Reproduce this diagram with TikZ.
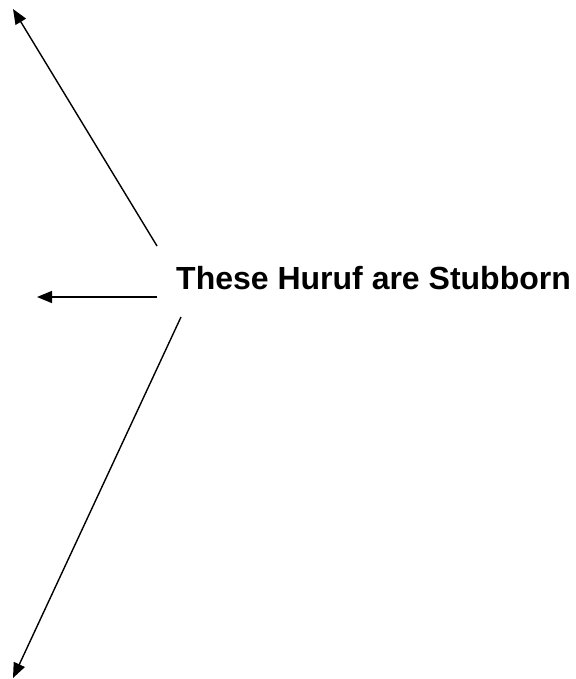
\documentclass[tikz,border=0pt]{standalone}
\usepackage{fontspec}
\setmainfont{Liberation Sans}
\usetikzlibrary{arrows.meta,positioning}

\begin{document}
\begin{tikzpicture}[x=1pt, y=-1pt,
    lbl/.style={font=\fontsize{32}{38}\selectfont\bfseries, inner sep=0pt, anchor=base west},
    arr/.style={-{Triangle[length=15pt, width=12pt]}, line width=1.4pt, black}
]
    \useasboundingbox (0,0) rectangle (575,679);
    \node[lbl] (title) at (176,289) {These Huruf are Stubborn};
    % ends of the arrows
    \coordinate (s1) at (157,246);
    \coordinate (s2) at (157,297);
    \coordinate (s3) at (181,317);
    \coordinate (e1) at (13,9);
    \coordinate (e2) at (37,297);
    \coordinate (e3) at (13,678);
    \draw[arr] (s1) -- (e1);
    \draw[arr] (s2) -- (e2);
    \draw[arr] (s3) -- (e3);
\end{tikzpicture}
\end{document}
